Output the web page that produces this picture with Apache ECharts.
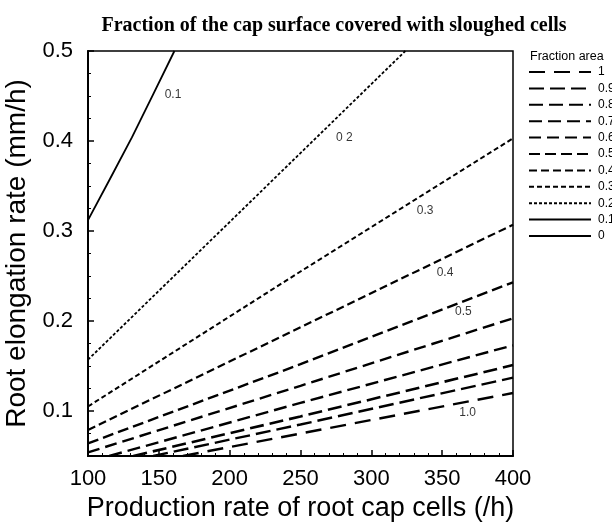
<!DOCTYPE html>
<html>
<head>
<meta charset="utf-8">
<script src="https://cdn.jsdelivr.net/npm/echarts@6/dist/echarts.min.js"></script>
<style>
  html, body { margin: 0; padding: 0; background: #fff; }
  #chart { width: 612px; height: 522px; }
</style>
</head>
<body>
<div id="chart"></div>
<script>
// contour lines: [production rate (/h), elongation rate (mm/h)]
const f01 = [[100, 0.312], [131, 0.404], [161, 0.5]]
const f02 = [[100, 0.157], [200, 0.31], [324, 0.5]]
const f03 = [[100, 0.105], [250, 0.255], [400, 0.403]]
const f04 = [[100, 0.079], [250, 0.193], [400, 0.307]]
const f05 = [[100, 0.064], [250, 0.152], [400, 0.243]]
const f06 = [[100, 0.054], [250, 0.128], [400, 0.203]]
const f07 = [[115, 0.05], [250, 0.109], [400, 0.173]]
const f08 = [[132, 0.05], [250, 0.094], [400, 0.151]]
const f09 = [[146, 0.05], [250, 0.085], [400, 0.137]]
const f10 = [[167, 0.05], [250, 0.075], [400, 0.12]]

// labels written on the contours: [x, y, text]
const contourLabels = [
  [160, 0.451, '0.1'],
  [281, 0.404, '0 2'],
  [338, 0.323, '0.3'],
  [352, 0.254, '0.4'],
  [365, 0.210, '0.5'],
  [368, 0.098, '1.0']
]

const yMajor = [0.1, 0.2, 0.3, 0.4, 0.5]
const yMinor = [0.05, 0.075, 0.125, 0.15, 0.175, 0.225, 0.25, 0.275, 0.325, 0.35, 0.375, 0.425, 0.45, 0.475]

// legend order, top to bottom
const legendNames = ['1', '0.9', '0.8', '0.7', '0.6', '0.5', '0.4', '0.3', '0.2', '0.1', '0']

const SANS = '"Liberation Sans", Arial, sans-serif'

function contour (name, data, dash, width, smooth) {
  return {
    name: name,
    type: 'line',
    data: data,
    symbol: 'none',
    smooth: smooth || false,
    silent: true,
    color: '#000',
    lineStyle: { color: '#000', width: width, type: dash }
  }
}

const chart = echarts.init(document.getElementById('chart'))
const option = {
  animation: false,
  backgroundColor: '#fff',
  textStyle: { fontFamily: SANS },
  title: {
    text: 'Fraction of the cap surface covered with sloughed cells',
    left: 329,
    textAlign: 'center',
    top: 11,
    textStyle: {
      fontFamily: '"Liberation Serif", "Times New Roman", serif',
      fontWeight: 'bold',
      fontSize: 20,
      color: '#000'
    }
  },
  graphic: [{
    type: 'text',
    left: 530,
    top: 50,
    style: { text: 'Fraction area', font: '12.5px ' + SANS, fill: '#000' }
  }],
  legend: {
    data: legendNames,
    orient: 'vertical',
    left: 528,
    top: 66,
    padding: 0,
    itemWidth: 62,
    itemHeight: 14,
    itemGap: 4.4,
    selectedMode: false,
    itemStyle: { opacity: 0 },
    textStyle: { fontSize: 12, color: '#000', padding: [0, 0, 0, 2] }
  },
  grid: {
    left: 88,
    right: 99,
    top: 51,
    bottom: 66,
    outerBoundsMode: 'none',
    containLabel: false,
    show: true,
    borderColor: '#000',
    borderWidth: 1.5,
    backgroundColor: 'transparent'
  },
  xAxis: {
    type: 'value',
    min: 100,
    max: 400,
    interval: 50,
    name: 'Production rate of root cap cells (/h)',
    nameLocation: 'middle',
    nameGap: 35,
    nameTextStyle: { fontSize: 27, color: '#000' },
    axisLine: { lineStyle: { color: '#000', width: 2 } },
    axisTick: { inside: true, length: 6, lineStyle: { color: '#000', width: 1.5 } },
    minorTick: { show: true, splitNumber: 5, length: 3, lineStyle: { color: '#000', width: 1 } },
    axisLabel: { fontSize: 22, color: '#000', margin: 12 },
    splitLine: { show: false }
  },
  yAxis: [{
    type: 'value',
    min: 0.05,
    max: 0.5,
    name: 'Root elongation rate (mm/h)',
    nameLocation: 'middle',
    nameGap: 52,
    nameTextStyle: { fontSize: 28, color: '#000' },
    axisLine: { lineStyle: { color: '#000', width: 2 } },
    axisTick: { inside: true, length: 6, customValues: yMajor, lineStyle: { color: '#000', width: 1.5 } },
    axisLabel: { fontSize: 22, color: '#000', margin: 15, customValues: yMajor, formatter: v => v.toFixed(1) },
    splitLine: { show: false }
  }, {
    type: 'value',
    position: 'left',
    min: 0.05,
    max: 0.5,
    axisLine: { show: false },
    axisTick: { inside: true, length: 3, customValues: yMinor, lineStyle: { color: '#000', width: 1 } },
    axisLabel: { show: false },
    splitLine: { show: false }
  }],
  series: [
    contour('1', f10, [16, 9], 2.4),
    contour('0.9', f09, [15, 6], 2.4),
    contour('0.8', f08, [14, 6], 2.6),
    contour('0.7', f07, [13, 6], 2.4),
    contour('0.6', f06, [12, 6], 2.4),
    contour('0.5', f05, [11, 5], 2.4),
    contour('0.4', f04, [8, 4], 2.2),
    contour('0.3', f03, [5, 3], 2),
    contour('0.2', f02, [3, 2], 1.8),
    contour('0.1', f01, 'solid', 1.8, 0.1),
    contour('0', [], 'solid', 1.8),
    {
      name: 'labels',
      type: 'scatter',
      symbolSize: 0,
      silent: true,
      data: contourLabels,
      label: {
        show: true,
        position: 'inside',
        formatter: p => p.data[2],
        fontSize: 12,
        color: '#000'
      }
    }
  ]
}
chart.setOption(option)
</script>
</body>
</html>
